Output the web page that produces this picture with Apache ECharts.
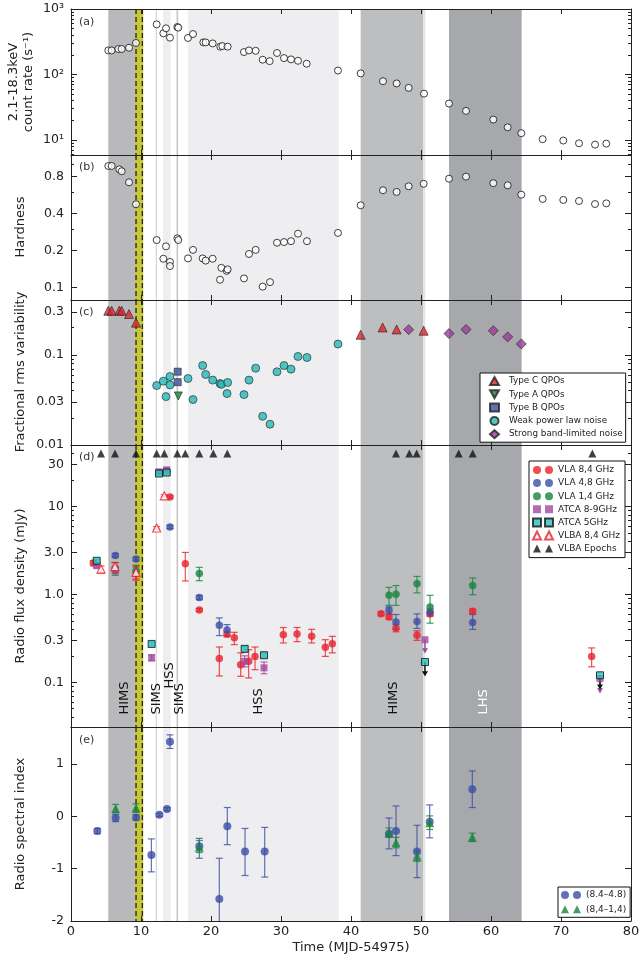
<!DOCTYPE html>
<html>
<head>
<meta charset="utf-8">
<script src="https://cdn.jsdelivr.net/npm/echarts@6.0.0/dist/echarts.min.js"></script>
<style>
  html, body { margin: 0; padding: 0; background: #fff; }
  #chart { width: 643px; height: 959px; }
</style>
</head>
<body>
<div id="chart"></div>
<script>
// ---------------- data ----------------

// spectral-state shading (MJD-54975)
const stateStart = [5.33, 9.14, 13.14, 16.71, 41.38, 50.33, 54.0];
const stateEnd   = [9.14, 10.33, 14.24, 38.24, 50.33, 50.6, 64.38];
const stateKind  = ['hims', 'flare', 'soft', 'soft', 'hims2', 'edge', 'lhs'];
const solidMarks = [12.19, 15.19];
const flareEdges = [9.29, 10.19];

const stateLabels    = ['HIMS', 'SIMS', 'HSS', 'SIMS', 'HSS', 'HIMS', 'LHS'];
const stateLabelTime = [7.71, 12.29, 14.14, 15.47, 26.86, 46.05, 58.9];
const stateLabelBase = [0.043, 0.043, 0.085, 0.043, 0.043, 0.043, 0.043]; // mJy where the text starts

// (a) count rate
const countTime = [5.33, 5.81, 6.76, 7.24, 8.29, 9.29, 12.24, 13.19, 13.57, 14.14, 15.19, 15.33,
  16.71, 17.43, 18.9, 19.24, 20.24, 21.33, 21.62, 22.38, 24.71, 25.43, 26.38, 27.38, 28.38,
  29.43, 30.43, 31.43, 32.43, 33.67, 38.14, 41.38, 44.57, 46.52, 48.24, 50.43, 54.0, 56.43,
  60.33, 62.38, 64.33, 67.38, 70.33, 72.57, 74.86, 76.47];
const countRate = [233, 233, 245, 245, 256, 303, 583, 425, 507, 365, 531, 519,
  361, 415, 309, 309, 298, 266, 272, 266, 220, 233, 230, 168, 160,
  213, 178, 170, 162, 146, 115, 104, 79, 73, 62.5, 51, 36, 27.8,
  20.5, 15.6, 12.7, 10.3, 9.8, 8.9, 8.5, 8.8];

// (b) hardness
const hardTime = [5.33, 5.81, 6.9, 7.24, 8.29, 9.29, 12.24, 13.19, 13.57, 14.14, 14.14, 15.19, 15.33,
  16.71, 17.43, 18.81, 19.24, 20.24, 21.29, 21.48, 22.24, 22.38, 24.71, 25.43, 26.38, 27.38, 28.43,
  29.43, 30.43, 31.43, 32.43, 33.71, 38.14, 41.38, 44.57, 46.52, 48.24, 50.38, 54.0, 56.43, 60.33,
  62.38, 64.33, 67.38, 70.33, 72.57, 74.86, 76.47];
const hardness = [0.977, 0.977, 0.918, 0.885, 0.72, 0.477, 0.244, 0.172, 0.217, 0.162, 0.150, 0.252, 0.244,
  0.173, 0.203, 0.173, 0.166, 0.172, 0.116, 0.145, 0.137, 0.141, 0.119, 0.188, 0.203, 0.102, 0.111,
  0.232, 0.235, 0.239, 0.275, 0.239, 0.279, 0.468, 0.62, 0.601, 0.668, 0.70, 0.77, 0.8, 0.708,
  0.68, 0.571, 0.527, 0.517, 0.507, 0.479, 0.485];

// (c) fractional rms
const qpoCTime = [5.33, 5.81, 6.9, 7.24, 8.29, 9.29, 41.38, 44.52, 46.52, 50.38];
const qpoCRms  = [0.308, 0.308, 0.308, 0.308, 0.283, 0.227, 0.167, 0.201, 0.191, 0.185];
const qpoATime = [15.33];
const qpoARms  = [0.035];
const qpoBTime = [15.24, 15.24];
const qpoBRms  = [0.065, 0.0497];
const weakTime = [12.24, 13.19, 13.57, 14.14, 14.14, 16.71, 17.43, 18.81, 19.24, 20.24, 21.29, 21.48,
  22.38, 22.29, 24.71, 25.43, 26.38, 27.38, 28.43, 29.43, 30.43, 31.43, 32.43, 33.71, 38.14];
const weakRms  = [0.0456, 0.051, 0.0344, 0.0574, 0.0464, 0.0546, 0.0319, 0.076, 0.0605, 0.0524, 0.048, 0.047,
  0.0493, 0.0372, 0.0362, 0.0524, 0.0711, 0.0208, 0.017, 0.0648, 0.076, 0.0693, 0.0958, 0.0933, 0.1315];
const blnTime  = [48.24, 54.0, 56.43, 60.33, 62.38, 64.33];
const blnRms   = [0.19, 0.172, 0.191, 0.185, 0.158, 0.132];

// (d) radio flux density, mJy: [time, flux, low, high]
const vla84 = [[3.19, 2.27, 2.12, 2.42], [6.33, 2.0, 1.72, 2.3], [9.29, 1.75, 1.45, 2.1],
  [14.14, 12.8, 12.4, 13.2], [16.33, 2.23, 1.42, 3.0], [18.33, 0.665, 0.64, 0.69],
  [21.19, 0.186, 0.118, 0.252], [22.29, 0.351, 0.33, 0.375], [23.33, 0.32, 0.268, 0.37],
  [24.24, 0.158, 0.117, 0.216], [25.38, 0.173, 0.112, 0.235], [26.29, 0.197, 0.139, 0.252],
  [30.33, 0.348, 0.28, 0.42], [32.29, 0.355, 0.29, 0.42], [34.38, 0.333, 0.28, 0.40],
  [36.33, 0.25, 0.197, 0.305], [37.33, 0.275, 0.216, 0.333], [44.29, 0.60, 0.57, 0.63],
  [45.43, 0.553, 0.52, 0.59], [46.43, 0.415, 0.375, 0.455], [49.43, 0.342, 0.30, 0.385],
  [51.29, 0.60, 0.56, 0.64], [57.38, 0.641, 0.6, 0.68], [74.38, 0.197, 0.15, 0.246]];
const vla48 = [[6.33, 2.77, 2.65, 2.9], [9.29, 2.52, 2.4, 2.65], [14.14, 5.84, 5.6, 6.1],
  [18.33, 0.92, 0.87, 0.97], [21.19, 0.445, 0.34, 0.54], [22.29, 0.394, 0.34, 0.453],
  [45.43, 0.658, 0.6, 0.72], [46.43, 0.485, 0.40, 0.59], [49.43, 0.49, 0.41, 0.6],
  [51.29, 0.63, 0.58, 0.68], [57.38, 0.48, 0.40, 0.59]];
const vla14 = [[6.33, 1.95, 1.65, 2.3], [9.29, 1.86, 1.6, 2.15], [18.33, 1.73, 1.43, 2.03],
  [45.43, 0.975, 0.75, 1.2], [46.43, 1.0, 0.75, 1.26], [49.43, 1.32, 1.04, 1.6],
  [51.29, 0.72, 0.47, 0.975], [57.38, 1.26, 0.99, 1.54]];
const atca89 = [[3.67, 2.12, 2.0, 2.25], [6.33, 1.9, 1.78, 2.02], [11.52, 0.19, 0.175, 0.205],
  [12.57, 24.8, 23.5, 26], [13.67, 26.1, 25, 27.3], [24.81, 0.173, 0.15, 0.2], [27.57, 0.146, 0.125, 0.17]];
const atca89Limits = [[50.57, 0.305, 0.22], [75.57, 0.11, 0.077]];   // [time, limit, arrow tip]
const atca5 = [[3.67, 2.41, 2.3, 2.52], [11.52, 0.273, 0.26, 0.286], [12.57, 23.7, 22.8, 24.6],
  [13.67, 24.3, 23.4, 25.2], [24.81, 0.24, 0.225, 0.255], [27.57, 0.203, 0.19, 0.216]];
const atca5Limits = [[50.57, 0.17, 0.12], [75.57, 0.12, 0.085]];
const vlba84 = [[4.29, 1.94, 1.75, 2.1], [6.29, 2.07, 1.85, 2.3], [9.29, 1.78, 1.5, 2.05],
  [12.24, 5.69, 5.5, 5.9], [13.33, 13.2, 12.8, 13.6]];
const vlbaEpochs = [4.29, 6.29, 9.29, 12.24, 13.33, 15.19, 16.33, 18.33, 20.33, 22.33,
  46.43, 48.33, 49.38, 55.38, 57.38, 74.48];
const vlbaEpochLevel = 40;

// (e) radio spectral index: [time, index, low, high]
const alpha8448 = [[3.76, -0.28, -0.33, -0.23], [6.38, -0.03, -0.1, 0.04], [9.29, -0.02, -0.07, 0.03],
  [11.48, -0.74, -1.06, -0.43], [12.62, 0.03, 0.0, 0.06], [13.71, 0.14, 0.11, 0.17],
  [14.14, 1.43, 1.3, 1.56], [18.33, -0.57, -0.8, -0.42], [21.19, -1.58, -2.4, -0.8],
  [22.33, -0.19, -0.54, 0.17], [24.86, -0.67, -1.13, -0.23], [27.67, -0.67, -1.16, -0.21],
  [45.43, -0.33, -0.62, -0.03], [46.43, -0.28, -0.75, 0.2], [49.43, -0.67, -1.17, -0.17],
  [51.24, -0.1, -0.41, 0.22], [57.33, 0.52, 0.17, 0.87]];
const alpha8414 = [[6.38, 0.15, 0.07, 0.23], [9.29, 0.16, 0.08, 0.24], [18.33, -0.59, -0.69, -0.46],
  [45.43, -0.31, -0.4, -0.22], [46.43, -0.5, -0.6, -0.4], [49.43, -0.76, -0.86, -0.66],
  [51.24, -0.12, -0.25, 0.01], [57.33, -0.4, -0.48, -0.32]];

// axis ticks
const ticksA = [10, 100, 1000],  labelsA = ['10¹', '10²', '10³'];
const ticksB = [0.1, 0.2, 0.4, 0.8], labelsB = ['0.1', '0.2', '0.4', '0.8'];
const minorB = [0.3, 0.6, 1.0];
const ticksC = [0.01, 0.03, 0.1, 0.3], labelsC = ['0.01', '0.03', '0.1', '0.3'];
const ticksD = [0.1, 0.3, 1, 3, 10, 30], labelsD = ['0.1', '0.3', '1.0', '3.0', '10', '30'];
const ticksE = [-2, -1, 0, 1], labelsE = ['-2', '-1', '0', '1'];

// ---------------- chart ----------------
const FONT = 'DejaVu Sans';
const AX = '#222';

function minorLog(lo, hi, major) {
  const out = [];
  for (let n = Math.floor(Math.log10(lo)); n <= Math.ceil(Math.log10(hi)); n++) {
    for (let k = 1; k <= 9; k++) {
      const v = k * Math.pow(10, n);
      if (v > lo && v < hi && !major.some(m => Math.abs(m - v) / v < 1e-6)) out.push(v);
    }
  }
  return out;
}

const panels = [
  { top: 9,   height: 146, log: true,  min: 5.9,    max: 1000, ticks: ticksA, labels: labelsA, minor: minorLog(5.9, 1000, ticksA) },
  { top: 155, height: 145, log: true,  min: 0.0794, max: 1.2,  ticks: ticksB, labels: labelsB, minor: minorB },
  { top: 300, height: 145, log: true,  min: 0.01,   max: 0.405, ticks: ticksC, labels: labelsC, minor: minorLog(0.01, 0.405, ticksC) },
  { top: 445, height: 282, log: true,  min: 0.031,  max: 50,   ticks: ticksD, labels: labelsD, minor: minorLog(0.031, 50, ticksD) },
  { top: 727, height: 194, log: false, min: -2,     max: 1.71, ticks: ticksE, labels: labelsE, minor: [] }
];

const tf = i => panels[i].log ? Math.log10 : (v => v);

const grid = panels.map(p => ({ left: 71, right: 12, top: p.top, height: p.height }));
const xAxis = [], yAxis = [];

panels.forEach((p, i) => {
  ['bottom', 'top'].forEach(pos => {
    const main = i === 4 && pos === 'bottom';
    xAxis.push({
      gridIndex: i, type: 'value', position: pos, min: 0, max: 80, interval: 10, z: 10,
      axisLine: { show: true, onZero: false, lineStyle: { color: AX, width: 1 } },
      axisTick: { show: true, inside: true, length: 5, lineStyle: { color: AX } },
      axisLabel: { show: main, margin: 4, color: AX, fontFamily: FONT, fontSize: 13 },
      splitLine: { show: false },
      name: main ? 'Time (MJD-54975)' : '',
      nameLocation: 'middle', nameGap: 20,
      nameTextStyle: { fontFamily: FONT, fontSize: 13, color: AX }
    });
  });
  const f = tf(i);
  const major = p.ticks.map(f);
  const minor = p.minor.map(f);
  const fmt = v => {
    const k = major.findIndex(m => Math.abs(m - v) < 1e-6);
    return k < 0 ? '' : p.labels[k];
  };
  ['left', 'right'].forEach(pos => {
    yAxis.push({
      gridIndex: i, type: 'value', position: pos, min: f(p.min), max: f(p.max), z: 10,
      axisLine: { show: true, onZero: false, lineStyle: { color: AX, width: 1 } },
      axisTick: { show: true, inside: true, length: 6, customValues: major, lineStyle: { color: AX } },
      axisLabel: { show: pos === 'left', customValues: major, formatter: fmt, margin: 7,
        color: AX, fontFamily: FONT, fontSize: 12.5 },
      splitLine: { show: false }
    });
    yAxis.push({
      gridIndex: i, type: 'value', position: pos, min: f(p.min), max: f(p.max), z: 10,
      axisLine: { show: false, onZero: false },
      axisTick: { show: minor.length > 0, inside: true, length: 3,
        customValues: minor.length ? minor : [f(p.min)], lineStyle: { color: AX } },
      axisLabel: { show: false },
      splitLine: { show: false }
    });
  });
});

const bandColor = { hims: '#b9b9bb', flare: '#c6c63a', soft: '#eeeef0', hims2: '#bdbec0', edge: '#e2e3e4', lhs: '#a6a8ab' };

function bandSeries(i) {
  return {
    type: 'custom', xAxisIndex: i * 2, yAxisIndex: i * 4, z: 1, silent: true, clip: true,
    data: stateStart.map((s, k) => [s, stateEnd[k]]),
    renderItem(params, api) {
      const cs = params.coordSys;
      const x0 = api.coord([api.value(0), 0])[0];
      const x1 = api.coord([api.value(1), 0])[0];
      return { type: 'rect', shape: { x: x0, y: cs.y, width: x1 - x0, height: cs.height },
        style: { fill: bandColor[stateKind[params.dataIndex]] } };
    }
  };
}

function vlineSeries(i) {
  const rows = solidMarks.map(x => [x, 0]).concat(flareEdges.map(x => [x, 1]));
  return {
    type: 'custom', xAxisIndex: i * 2, yAxisIndex: i * 4, z: 2, silent: true, clip: true,
    data: rows,
    renderItem(params, api) {
      const cs = params.coordSys;
      const x = api.coord([api.value(0), 0])[0];
      const dashed = api.value(1) === 1;
      const first = params.dataIndex === 0;
      return { type: 'line', shape: { x1: x, y1: cs.y, x2: x, y2: cs.y + cs.height },
        style: dashed ? { stroke: '#222', lineWidth: 1.3, lineDash: [5, 3] }
                      : { stroke: first ? '#d4d4d6' : '#c6c6c8', lineWidth: first ? 1.2 : 1.6 } };
    }
  };
}

function errBars(i, rows, color) {
  const f = tf(i);
  return {
    type: 'custom', xAxisIndex: i * 2, yAxisIndex: i * 4, z: 3, silent: true, clip: true,
    data: rows.map(r => [r[0], f(r[2]), f(r[3])]),
    renderItem(params, api) {
      const a = api.coord([api.value(0), api.value(1)]);
      const b = api.coord([api.value(0), api.value(2)]);
      const st = { stroke: color, lineWidth: 1.2, opacity: 0.8 };
      return { type: 'group', children: [
        { type: 'line', shape: { x1: a[0], y1: a[1], x2: b[0], y2: b[1] }, style: st },
        { type: 'line', shape: { x1: a[0] - 3.5, y1: a[1], x2: a[0] + 3.5, y2: a[1] }, style: st },
        { type: 'line', shape: { x1: b[0] - 3.5, y1: b[1], x2: b[0] + 3.5, y2: b[1] }, style: st }
      ] };
    }
  };
}

function limitArrows(i, rows, color) {
  const f = tf(i);
  return {
    type: 'custom', xAxisIndex: i * 2, yAxisIndex: i * 4, z: 3, silent: true, clip: true,
    data: rows.map(r => [r[0], f(r[1]), f(r[2])]),
    renderItem(params, api) {
      const a = api.coord([api.value(0), api.value(1)]);
      const b = api.coord([api.value(0), api.value(2)]);
      return { type: 'group', children: [
        { type: 'line', shape: { x1: a[0], y1: a[1], x2: b[0], y2: b[1] }, style: { stroke: color, lineWidth: 1.5 } },
        { type: 'polygon', shape: { points: [[b[0] - 3, b[1] - 4], [b[0] + 3, b[1] - 4], [b[0], b[1] + 1]] }, style: { fill: color } }
      ] };
    }
  };
}

function scatter(i, name, data, sym) {
  return Object.assign({
    type: 'scatter', name, xAxisIndex: i * 2, yAxisIndex: i * 4, z: 5,
    data, emphasis: { disabled: true }
  }, sym);
}

const pts = (i, xs, ys) => xs.map((x, k) => [x, tf(i)(ys[k])]);
const rowsPts = (i, rows) => rows.map(r => [r[0], tf(i)(r[1])]);

const RED = '#e8202a', BLUE = '#3b4ea5', GREEN = '#17853f', PURPLE = '#a3479f', CYAN = '#2bbfbf';
const EDGE = { borderColor: '#222', borderWidth: 0.8 };

const series = [];
panels.forEach((p, i) => series.push(bandSeries(i), vlineSeries(i)));

// (a), (b)
const openCircle = { symbol: 'circle', symbolSize: 7, itemStyle: { color: '#fff', borderColor: '#111', borderWidth: 1 } };
series.push(scatter(0, 'count rate', pts(0, countTime, countRate), openCircle));
series.push(scatter(1, 'hardness', pts(1, hardTime, hardness), openCircle));

// (c)
const DOWN = 'path://M0,0L10,0L5,9Z';
series.push(scatter(2, 'Type C QPOs', pts(2, qpoCTime, qpoCRms), { symbol: 'triangle', symbolSize: 9, itemStyle: Object.assign({ color: '#e3212b' }, EDGE) }));
series.push(scatter(2, 'Type A QPOs', pts(2, qpoATime, qpoARms), { symbol: DOWN, symbolSize: 8, itemStyle: Object.assign({ color: '#13803c' }, EDGE) }));
series.push(scatter(2, 'Type B QPOs', pts(2, qpoBTime, qpoBRms), { symbol: 'rect', symbolSize: 7, itemStyle: Object.assign({ color: '#3b4da0' }, EDGE) }));
series.push(scatter(2, 'Weak power law noise', pts(2, weakTime, weakRms), { symbol: 'circle', symbolSize: 8, itemStyle: Object.assign({ color: '#25b8b8' }, EDGE) }));
series.push(scatter(2, 'Strong band-limited noise', pts(2, blnTime, blnRms), { symbol: 'diamond', symbolSize: 10, itemStyle: Object.assign({ color: '#9b3b9b' }, EDGE) }));

// (d)
series.push(errBars(3, vla84, RED), errBars(3, vla48, BLUE), errBars(3, vla14, GREEN),
  errBars(3, atca89, PURPLE), errBars(3, atca5, CYAN), errBars(3, vlba84, RED),
  limitArrows(3, atca89Limits, PURPLE), limitArrows(3, atca5Limits, '#111'));
series.push(scatter(3, 'VLA 8,4 GHz', rowsPts(3, vla84), { symbol: 'circle', symbolSize: 7.5, itemStyle: { color: RED } }));
series.push(scatter(3, 'VLA 4,8 GHz', rowsPts(3, vla48), { symbol: 'circle', symbolSize: 7.5, itemStyle: { color: BLUE } }));
series.push(scatter(3, 'VLA 1,4 GHz', rowsPts(3, vla14), { symbol: 'circle', symbolSize: 7.5, itemStyle: { color: GREEN } }));
series.push(scatter(3, 'ATCA 8-9GHz', rowsPts(3, atca89.concat(atca89Limits)), { symbol: 'rect', symbolSize: 7, itemStyle: { color: PURPLE } }));
series.push(scatter(3, 'ATCA 5GHz', rowsPts(3, atca5.concat(atca5Limits)), { symbol: 'rect', symbolSize: 7, itemStyle: { color: CYAN, borderColor: '#111', borderWidth: 1 } }));
series.push(scatter(3, 'VLBA 8,4 GHz', rowsPts(3, vlba84), { symbol: 'triangle', symbolSize: 8, itemStyle: { color: '#fff', borderColor: RED, borderWidth: 1.2 } }));
series.push(scatter(3, 'VLBA Epochs', vlbaEpochs.map(t => [t, tf(3)(vlbaEpochLevel)]), { symbol: 'triangle', symbolSize: 8, itemStyle: { color: '#111' } }));

// state names in (d)
series.push({
  type: 'custom', xAxisIndex: 6, yAxisIndex: 12, z: 6, silent: true,
  data: stateLabelTime.map((t, k) => [t, tf(3)(stateLabelBase[k])]),
  renderItem(params, api) {
    const c = api.coord([api.value(0), api.value(1)]);
    const txt = stateLabels[params.dataIndex];
    return { type: 'text', x: c[0], y: c[1], rotation: Math.PI / 2,
      style: { text: txt, font: '13px "DejaVu Sans"', fill: txt === 'LHS' ? '#fff' : '#111',
        align: 'left', verticalAlign: 'middle' } };
  }
});

// (e)
series.push(errBars(4, alpha8448, BLUE), errBars(4, alpha8414, GREEN));
series.push(scatter(4, '(8.4–4.8)', rowsPts(4, alpha8448), { symbol: 'circle', symbolSize: 8, itemStyle: { color: BLUE } }));
series.push(scatter(4, '(8,4–1,4)', rowsPts(4, alpha8414), { symbol: 'triangle', symbolSize: 9, itemStyle: { color: GREEN } }));

const PAIR_CIRCLE = 'path://M0,4A4,4 0 1,1 8,4A4,4 0 1,1 0,4ZM12,4A4,4 0 1,1 20,4A4,4 0 1,1 12,4Z';
const PAIR_SQUARE = 'path://M0,0H8V8H0ZM12,0H20V8H12Z';
const PAIR_TRI = 'path://M4,0L8,8H0ZM16,0L20,8H12Z';

const legendBase = {
  orient: 'vertical', backgroundColor: '#fff', borderColor: '#111', borderWidth: 1, borderRadius: 0,
  selectedMode: false, z: 20,
  textStyle: { fontFamily: FONT, fontSize: 9, color: '#222', lineHeight: 10 }
};

const legend = [
  Object.assign({}, legendBase, {
    left: 480, top: 373, itemWidth: 9, itemHeight: 8, itemGap: 3.3, padding: [3, 3, 3, 9],
    textStyle: Object.assign({}, legendBase.textStyle, { fontSize: 8.8, padding: [0, 0, 0, 5] }),
    data: [
      { name: 'Type C QPOs', icon: 'triangle' },
      { name: 'Type A QPOs', icon: DOWN },
      { name: 'Type B QPOs', icon: 'rect' },
      { name: 'Weak power law noise', icon: 'circle' },
      { name: 'Strong band-limited noise', icon: 'diamond' }
    ]
  }),
  Object.assign({}, legendBase, {
    left: 529, top: 461, itemWidth: 20, itemHeight: 8, itemGap: 3.1, padding: [4, 5, 4, 3],
    data: [
      { name: 'VLA 8,4 GHz', icon: PAIR_CIRCLE },
      { name: 'VLA 4,8 GHz', icon: PAIR_CIRCLE },
      { name: 'VLA 1,4 GHz', icon: PAIR_CIRCLE },
      { name: 'ATCA 8-9GHz', icon: PAIR_SQUARE },
      { name: 'ATCA 5GHz', icon: PAIR_SQUARE },
      { name: 'VLBA 8,4 GHz', icon: PAIR_TRI },
      { name: 'VLBA Epochs', icon: PAIR_TRI }
    ]
  }),
  Object.assign({}, legendBase, {
    left: 558, top: 887, itemWidth: 20, itemHeight: 8, itemGap: 4.3, padding: [3, 4, 3, 3],
    data: [
      { name: '(8.4–4.8)', icon: PAIR_CIRCLE },
      { name: '(8,4–1,4)', icon: PAIR_TRI }
    ]
  })
];

function vtext(x, y, text) {
  return { type: 'text', x, y, rotation: Math.PI / 2, z: 20,
    style: { text, font: '13px "DejaVu Sans"', fill: AX, align: 'center', verticalAlign: 'middle' } };
}
function tag(y, text) {
  return { type: 'text', x: 79, y, z: 20,
    style: { text, font: '11px "DejaVu Sans"', fill: '#333', align: 'left', verticalAlign: 'middle' } };
}

const graphic = [
  vtext(14, 82, '2.1-18.3keV'),
  vtext(29, 82, 'count rate (s⁻¹)'),
  vtext(21, 227, 'Hardness'),
  vtext(21, 372, 'Fractional rms variability'),
  vtext(21, 586, 'Radio flux density (mJy)'),
  vtext(21, 824, 'Radio spectral index'),
  tag(22, '(a)'), tag(167, '(b)'), tag(312, '(c)'), tag(457, '(d)'), tag(740, '(e)')
];

const chart = echarts.init(document.getElementById('chart'));
chart.setOption({
  animation: false,
  backgroundColor: '#fff',
  textStyle: { fontFamily: FONT },
  grid, xAxis, yAxis, legend, graphic, series
});
</script>
</body>
</html>
